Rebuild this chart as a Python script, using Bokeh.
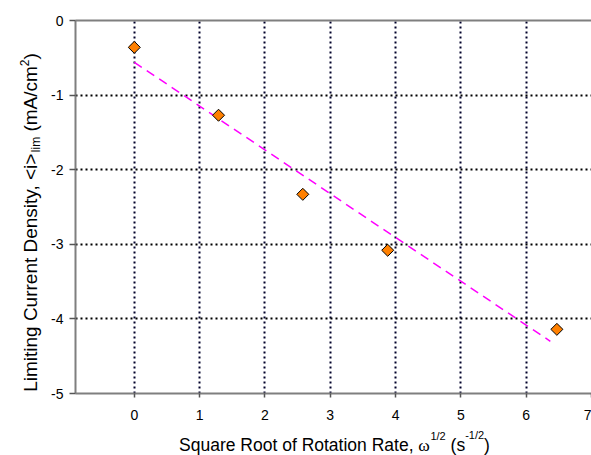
import numpy as np
from bokeh.plotting import figure
from bokeh.layouts import row, column
from bokeh.models import Range1d, FixedTicker, LinearAxis, Label, ColumnDataSource
from bokeh.embed import file_html
from bokeh.resources import INLINE

# ---- data ----
rate_sqrt = [0.0, 1.29, 2.58, 3.88, 6.47]
i_lim = [-0.36, -1.27, -2.33, -3.08, -4.14]
fit_x = [0.0, 6.37]
fit_y = [-0.56, -4.30]
x_ticks = [0, 1, 2, 3, 4, 5, 6, 7]
y_ticks = [0, -1, -2, -3, -4, -5]
x_grid = [0, 1, 2, 3, 4, 5, 6]
y_grid = [-1, -2, -3, -4]

# ---- layout ----
W, H = 591, 455
WL = 45            # width of the y-title strip
HB = 25            # height of the x-title strip
MW, MH = W - WL, H - HB
ML, MR, MT = 75 - WL, 0, 20
MB = MH - 393
X0, X1 = -0.9, 7.0
Y0, Y1 = -5.0, 0.0
FONT = "Liberation Sans"

p = figure(width=MW, height=MH, x_range=Range1d(X0, X1), y_range=Range1d(Y0, Y1),
           output_backend="svg", toolbar_location=None,
           min_border_left=ML, min_border_right=MR, min_border_top=MT, min_border_bottom=MB)
p.outline_line_color = None
p.background_fill_color = "white"
p.border_fill_color = "white"

AXIS_GRAY = "#7f7f7f"
for ax in (p.xaxis[0], p.yaxis[0]):
    ax.axis_line_color = AXIS_GRAY
    ax.axis_line_width = 2
    ax.major_tick_line_color = "#555555"
    ax.major_tick_line_width = 1.5
    ax.minor_tick_line_color = None
    ax.major_tick_in = 0
    ax.major_label_text_font = FONT
    ax.major_label_text_font_size = "14px"
    ax.major_label_text_color = "black"

p.xaxis.ticker = FixedTicker(ticks=x_ticks)
p.yaxis.ticker = FixedTicker(ticks=y_ticks)
p.xaxis.major_label_overrides = {t: str(t) for t in x_ticks}
p.yaxis.major_label_overrides = {t: str(t) for t in y_ticks}
p.xaxis.major_tick_out = 4
p.xaxis.major_label_standoff = 12
p.yaxis.major_tick_out = 6
p.yaxis.major_label_standoff = 6

top_axis = LinearAxis(ticker=FixedTicker(ticks=[]), axis_line_color=AXIS_GRAY, axis_line_width=2,
                      major_tick_line_color=None, minor_tick_line_color=None,
                      major_label_text_font_size="0px")
p.add_layout(top_axis, "above")

p.xgrid.ticker = FixedTicker(ticks=x_grid)
p.ygrid.ticker = FixedTicker(ticks=y_grid)
p.xgrid.grid_line_color = "#00002a"
p.ygrid.grid_line_color = "black"
for g in (p.xgrid[0], p.ygrid[0]):
    g.grid_line_width = 2
    g.grid_line_dash = "2 3"

# ---- marks ----
p.line(fit_x, fit_y, line_color="#FF00FF", line_dash="9 6", line_width=1.5)
src = ColumnDataSource(dict(x=rate_sqrt, y=i_lim))
p.scatter("x", "y", source=src, marker="square", size=8.5, angle=np.pi / 4,
          fill_color="#FF8000", line_color="black", line_width=1)


# ---- title strips (pixel coordinates of the whole page) ----
def strip(w, h, x0, x1, y0, y1):
    f = figure(width=w, height=h, x_range=Range1d(x0, x1), y_range=Range1d(y1, y0),
               x_axis_type=None, y_axis_type=None, output_backend="svg",
               toolbar_location=None, min_border=0)
    f.outline_line_color = None
    f.background_fill_color = "white"
    f.border_fill_color = "white"
    return f


# the column aligns the strip's frame with the main frame (x from 75 to 591)
xs = strip(MW, HB, WL + ML, W, MH, H)
ys = strip(WL, H, 0, WL, 0, H)

AW = {' ': 278, 'S': 667, 'q': 556, 'u': 556, 'a': 556, 'r': 333, 'e': 556, 'R': 722,
      'o': 556, 't': 278, 'f': 278, 'i': 222, 'n': 556, ',': 278, '(': 333, ')': 333,
      's': 500, '-': 333, '1': 556, '/': 278, '2': 556, 'L': 556, 'm': 833, 'g': 556,
      'C': 722, 'D': 722, 'y': 500, '<': 584, '>': 584, 'l': 222, 'c': 500, 'A': 667,
      'ω': 690}
BASE_SHIFT = 0.3   # anchor-to-baseline offset, in em


def tw(s, size):
    return sum(AW.get(c, 556) for c in s) * size / 1000.0


def split_lead(t):
    body = t.lstrip(" ")
    return t[:len(t) - len(body)], body


x_title = [("Square Root of Rotation Rate, ", 17.5, 0, FONT),
           ("ω", 17.5, 0, "Liberation Serif"),
           ("1/2", 11, 11, FONT),
           (" (s", 17.5, 0, FONT),
           ("-1/2", 11, 12, FONT),
           (")", 17.5, 0, FONT)]
total = sum(tw(t, s) for t, s, _, _ in x_title)
cx = 75 + (W - 75) / 2 + 1
xpos = cx - total / 2
base_y = 450
for t, s, rise, f in x_title:
    lead, body = split_lead(t)
    xpos += tw(lead, s)
    xs.add_layout(Label(x=xpos, y=base_y - rise - BASE_SHIFT * s, text=body, text_font=f,
                        text_font_size=f"{s}px", text_color="black",
                        text_align="left", text_baseline="alphabetic"))
    xpos += tw(body, s)

y_title = [("Limiting Current Density, <i>", 19, 0),
           ("lim", 12, -3),
           (" (mA/cm", 19, 0),
           ("2", 12, 8),
           (")", 19, 0)]
total_y = sum(tw(t, s) for t, s, _ in y_title)
cy = 222
ypos = cy + total_y / 2
base_x = 36
for t, s, rise in y_title:
    lead, body = split_lead(t)
    ypos -= tw(lead, s)
    ys.add_layout(Label(x=base_x - rise - BASE_SHIFT * s, y=ypos, text=body, text_font=FONT,
                        text_font_size=f"{s}px", text_color="black", angle=np.pi / 2,
                        text_align="left", text_baseline="alphabetic"))
    ypos -= tw(body, s)

layout = row(ys, column(p, xs, spacing=0), spacing=0)
open("out.html", "w").write(file_html(layout, INLINE))
